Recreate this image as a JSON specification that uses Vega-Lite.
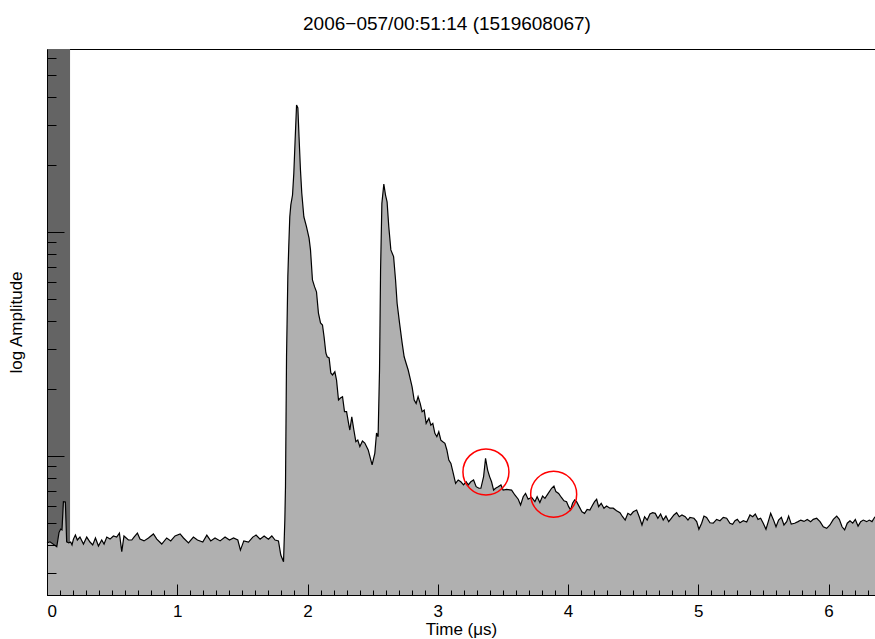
{
  "$schema": "https://vega.github.io/schema/vega-lite/v6.json",
  "autosize": {"type": "none"},
  "padding": {"left": 47, "top": 49, "right": 0, "bottom": 44},
  "width": 828,
  "height": 546,
  "background": "white",
  "title": {"text": "2006−057/00:51:14 (1519608067)", "font": "Liberation Sans", "fontSize": 19, "fontWeight": "normal", "color": "black", "anchor": "middle", "offset": 15, "dx": -14},
  "config": {"view": {"stroke": "black", "strokeWidth": 1}, "font": "Liberation Sans"},
  "datasets": {
    "wave": [
      {"time": 0.0, "logAmp": -0.388}, {"time": 0.023, "logAmp": -0.383}, {"time": 0.075, "logAmp": -0.405}, {"time": 0.092, "logAmp": -0.342},
      {"time": 0.105, "logAmp": -0.326}, {"time": 0.115, "logAmp": -0.330}, {"time": 0.126, "logAmp": -0.204}, {"time": 0.141, "logAmp": -0.205},
      {"time": 0.151, "logAmp": -0.383}, {"time": 0.167, "logAmp": -0.388}, {"time": 0.182, "logAmp": -0.384}, {"time": 0.192, "logAmp": -0.397},
      {"time": 0.203, "logAmp": -0.371}, {"time": 0.218, "logAmp": -0.353}, {"time": 0.233, "logAmp": -0.375}, {"time": 0.253, "logAmp": -0.362},
      {"time": 0.280, "logAmp": -0.393}, {"time": 0.305, "logAmp": -0.362}, {"time": 0.330, "logAmp": -0.384}, {"time": 0.351, "logAmp": -0.397},
      {"time": 0.372, "logAmp": -0.366}, {"time": 0.395, "logAmp": -0.402}, {"time": 0.420, "logAmp": -0.375}, {"time": 0.438, "logAmp": -0.393},
      {"time": 0.459, "logAmp": -0.362}, {"time": 0.484, "logAmp": -0.371}, {"time": 0.510, "logAmp": -0.357}, {"time": 0.535, "logAmp": -0.362},
      {"time": 0.556, "logAmp": -0.344}, {"time": 0.574, "logAmp": -0.427}, {"time": 0.591, "logAmp": -0.357}, {"time": 0.625, "logAmp": -0.375},
      {"time": 0.651, "logAmp": -0.375}, {"time": 0.668, "logAmp": -0.362}, {"time": 0.694, "logAmp": -0.344}, {"time": 0.714, "logAmp": -0.371},
      {"time": 0.745, "logAmp": -0.379}, {"time": 0.779, "logAmp": -0.366}, {"time": 0.817, "logAmp": -0.348}, {"time": 0.843, "logAmp": -0.371},
      {"time": 0.881, "logAmp": -0.393}, {"time": 0.919, "logAmp": -0.366}, {"time": 0.950, "logAmp": -0.379}, {"time": 0.983, "logAmp": -0.357},
      {"time": 1.022, "logAmp": -0.348}, {"time": 1.048, "logAmp": -0.366}, {"time": 1.086, "logAmp": -0.388}, {"time": 1.124, "logAmp": -0.362},
      {"time": 1.155, "logAmp": -0.375}, {"time": 1.196, "logAmp": -0.384}, {"time": 1.227, "logAmp": -0.353}, {"time": 1.257, "logAmp": -0.379},
      {"time": 1.290, "logAmp": -0.366}, {"time": 1.329, "logAmp": -0.379}, {"time": 1.367, "logAmp": -0.362}, {"time": 1.401, "logAmp": -0.375},
      {"time": 1.432, "logAmp": -0.366}, {"time": 1.465, "logAmp": -0.375}, {"time": 1.485, "logAmp": -0.420}, {"time": 1.511, "logAmp": -0.379},
      {"time": 1.547, "logAmp": -0.384}, {"time": 1.580, "logAmp": -0.362}, {"time": 1.605, "logAmp": -0.353}, {"time": 1.636, "logAmp": -0.371},
      {"time": 1.667, "logAmp": -0.357}, {"time": 1.700, "logAmp": -0.371}, {"time": 1.726, "logAmp": -0.357}, {"time": 1.751, "logAmp": -0.375},
      {"time": 1.777, "logAmp": -0.379}, {"time": 1.795, "logAmp": -0.442}, {"time": 1.816, "logAmp": -0.472}, {"time": 1.826, "logAmp": -0.286},
      {"time": 1.831, "logAmp": -0.137}, {"time": 1.839, "logAmp": 0.443}, {"time": 1.849, "logAmp": 0.800}, {"time": 1.856, "logAmp": 0.934},
      {"time": 1.864, "logAmp": 1.068}, {"time": 1.872, "logAmp": 1.121}, {"time": 1.885, "logAmp": 1.165}, {"time": 1.895, "logAmp": 1.263},
      {"time": 1.905, "logAmp": 1.411}, {"time": 1.916, "logAmp": 1.567}, {"time": 1.926, "logAmp": 1.554}, {"time": 1.935, "logAmp": 1.425},
      {"time": 1.946, "logAmp": 1.277}, {"time": 1.956, "logAmp": 1.174}, {"time": 1.972, "logAmp": 1.068}, {"time": 1.992, "logAmp": 1.024},
      {"time": 2.012, "logAmp": 0.973}, {"time": 2.023, "logAmp": 0.920}, {"time": 2.038, "logAmp": 0.786}, {"time": 2.054, "logAmp": 0.756},
      {"time": 2.069, "logAmp": 0.733}, {"time": 2.084, "logAmp": 0.638}, {"time": 2.100, "logAmp": 0.594}, {"time": 2.115, "logAmp": 0.585},
      {"time": 2.127, "logAmp": 0.533}, {"time": 2.141, "logAmp": 0.460}, {"time": 2.151, "logAmp": 0.443}, {"time": 2.166, "logAmp": 0.438},
      {"time": 2.179, "logAmp": 0.371}, {"time": 2.192, "logAmp": 0.362}, {"time": 2.210, "logAmp": 0.376}, {"time": 2.223, "logAmp": 0.339},
      {"time": 2.238, "logAmp": 0.250}, {"time": 2.253, "logAmp": 0.259}, {"time": 2.269, "logAmp": 0.265}, {"time": 2.284, "logAmp": 0.198},
      {"time": 2.300, "logAmp": 0.198}, {"time": 2.315, "logAmp": 0.147}, {"time": 2.325, "logAmp": 0.116}, {"time": 2.340, "logAmp": 0.175},
      {"time": 2.356, "logAmp": 0.116}, {"time": 2.371, "logAmp": 0.064}, {"time": 2.386, "logAmp": 0.071}, {"time": 2.402, "logAmp": 0.042},
      {"time": 2.422, "logAmp": 0.067}, {"time": 2.440, "logAmp": 0.058}, {"time": 2.466, "logAmp": 0.027}, {"time": 2.496, "logAmp": -0.040},
      {"time": 2.517, "logAmp": 0.013}, {"time": 2.530, "logAmp": 0.103}, {"time": 2.542, "logAmp": 0.086}, {"time": 2.553, "logAmp": 0.384},
      {"time": 2.561, "logAmp": 0.830}, {"time": 2.571, "logAmp": 1.128}, {"time": 2.586, "logAmp": 1.214}, {"time": 2.599, "logAmp": 1.165},
      {"time": 2.611, "logAmp": 1.135}, {"time": 2.624, "logAmp": 1.024}, {"time": 2.640, "logAmp": 0.920}, {"time": 2.661, "logAmp": 0.890},
      {"time": 2.676, "logAmp": 0.786}, {"time": 2.688, "logAmp": 0.682}, {"time": 2.707, "logAmp": 0.592}, {"time": 2.727, "logAmp": 0.503},
      {"time": 2.742, "logAmp": 0.443}, {"time": 2.757, "logAmp": 0.414}, {"time": 2.773, "logAmp": 0.384}, {"time": 2.788, "logAmp": 0.347},
      {"time": 2.803, "logAmp": 0.309}, {"time": 2.819, "logAmp": 0.250}, {"time": 2.834, "logAmp": 0.235}, {"time": 2.849, "logAmp": 0.265},
      {"time": 2.865, "logAmp": 0.235}, {"time": 2.880, "logAmp": 0.198}, {"time": 2.896, "logAmp": 0.205}, {"time": 2.911, "logAmp": 0.146},
      {"time": 2.932, "logAmp": 0.168}, {"time": 2.947, "logAmp": 0.138}, {"time": 2.962, "logAmp": 0.146}, {"time": 2.978, "logAmp": 0.101},
      {"time": 2.993, "logAmp": 0.086}, {"time": 3.008, "logAmp": 0.108}, {"time": 3.024, "logAmp": 0.071}, {"time": 3.039, "logAmp": 0.064},
      {"time": 3.055, "logAmp": 0.057}, {"time": 3.070, "logAmp": 0.027}, {"time": 3.085, "logAmp": -0.018}, {"time": 3.101, "logAmp": -0.033},
      {"time": 3.116, "logAmp": -0.070}, {"time": 3.137, "logAmp": -0.122}, {"time": 3.157, "logAmp": -0.107}, {"time": 3.177, "logAmp": -0.115},
      {"time": 3.198, "logAmp": -0.129}, {"time": 3.218, "logAmp": -0.115}, {"time": 3.234, "logAmp": -0.129}, {"time": 3.254, "logAmp": -0.115},
      {"time": 3.275, "logAmp": -0.107}, {"time": 3.295, "logAmp": -0.137}, {"time": 3.316, "logAmp": -0.144}, {"time": 3.331, "logAmp": -0.144},
      {"time": 3.352, "logAmp": -0.092}, {"time": 3.367, "logAmp": -0.010}, {"time": 3.383, "logAmp": -0.063}, {"time": 3.398, "logAmp": -0.092},
      {"time": 3.413, "logAmp": -0.115}, {"time": 3.429, "logAmp": -0.152}, {"time": 3.444, "logAmp": -0.144}, {"time": 3.464, "logAmp": -0.137},
      {"time": 3.485, "logAmp": -0.129}, {"time": 3.502, "logAmp": -0.152}, {"time": 3.528, "logAmp": -0.149}, {"time": 3.567, "logAmp": -0.152},
      {"time": 3.592, "logAmp": -0.174}, {"time": 3.618, "logAmp": -0.193}, {"time": 3.636, "logAmp": -0.219}, {"time": 3.656, "logAmp": -0.182},
      {"time": 3.674, "logAmp": -0.167}, {"time": 3.694, "logAmp": -0.193}, {"time": 3.720, "logAmp": -0.184}, {"time": 3.746, "logAmp": -0.204},
      {"time": 3.763, "logAmp": -0.182}, {"time": 3.784, "logAmp": -0.208}, {"time": 3.805, "logAmp": -0.179}, {"time": 3.823, "logAmp": -0.189},
      {"time": 3.848, "logAmp": -0.167}, {"time": 3.874, "logAmp": -0.144}, {"time": 3.892, "logAmp": -0.134}, {"time": 3.907, "logAmp": -0.159},
      {"time": 3.928, "logAmp": -0.167}, {"time": 3.948, "logAmp": -0.184}, {"time": 3.969, "logAmp": -0.200}, {"time": 3.989, "logAmp": -0.204},
      {"time": 4.005, "logAmp": -0.226}, {"time": 4.020, "logAmp": -0.241}, {"time": 4.035, "logAmp": -0.211}, {"time": 4.051, "logAmp": -0.196},
      {"time": 4.066, "logAmp": -0.204}, {"time": 4.086, "logAmp": -0.226}, {"time": 4.107, "logAmp": -0.249}, {"time": 4.127, "logAmp": -0.256},
      {"time": 4.147, "logAmp": -0.238}, {"time": 4.168, "logAmp": -0.241}, {"time": 4.189, "logAmp": -0.219}, {"time": 4.204, "logAmp": -0.204},
      {"time": 4.220, "logAmp": -0.193}, {"time": 4.235, "logAmp": -0.226}, {"time": 4.255, "logAmp": -0.211}, {"time": 4.276, "logAmp": -0.233},
      {"time": 4.296, "logAmp": -0.223}, {"time": 4.322, "logAmp": -0.233}, {"time": 4.347, "logAmp": -0.233}, {"time": 4.373, "logAmp": -0.244},
      {"time": 4.399, "logAmp": -0.253}, {"time": 4.419, "logAmp": -0.271}, {"time": 4.439, "logAmp": -0.286}, {"time": 4.460, "logAmp": -0.256},
      {"time": 4.481, "logAmp": -0.263}, {"time": 4.501, "logAmp": -0.249}, {"time": 4.527, "logAmp": -0.241}, {"time": 4.547, "logAmp": -0.271},
      {"time": 4.568, "logAmp": -0.308}, {"time": 4.588, "logAmp": -0.271}, {"time": 4.608, "logAmp": -0.286}, {"time": 4.629, "logAmp": -0.259},
      {"time": 4.650, "logAmp": -0.253}, {"time": 4.670, "logAmp": -0.256}, {"time": 4.690, "logAmp": -0.278}, {"time": 4.711, "logAmp": -0.259},
      {"time": 4.731, "logAmp": -0.286}, {"time": 4.752, "logAmp": -0.268}, {"time": 4.773, "logAmp": -0.293}, {"time": 4.793, "logAmp": -0.278},
      {"time": 4.813, "logAmp": -0.263}, {"time": 4.834, "logAmp": -0.253}, {"time": 4.854, "logAmp": -0.271}, {"time": 4.875, "logAmp": -0.263},
      {"time": 4.900, "logAmp": -0.271}, {"time": 4.921, "logAmp": -0.286}, {"time": 4.936, "logAmp": -0.274}, {"time": 4.967, "logAmp": -0.278},
      {"time": 4.988, "logAmp": -0.293}, {"time": 5.005, "logAmp": -0.327}, {"time": 5.026, "logAmp": -0.300}, {"time": 5.044, "logAmp": -0.268},
      {"time": 5.064, "logAmp": -0.274}, {"time": 5.090, "logAmp": -0.298}, {"time": 5.115, "logAmp": -0.300}, {"time": 5.141, "logAmp": -0.283},
      {"time": 5.167, "logAmp": -0.289}, {"time": 5.192, "logAmp": -0.274}, {"time": 5.218, "logAmp": -0.278}, {"time": 5.243, "logAmp": -0.300},
      {"time": 5.264, "logAmp": -0.305}, {"time": 5.282, "logAmp": -0.289}, {"time": 5.300, "logAmp": -0.283}, {"time": 5.320, "logAmp": -0.298},
      {"time": 5.346, "logAmp": -0.289}, {"time": 5.372, "logAmp": -0.295}, {"time": 5.397, "logAmp": -0.263}, {"time": 5.418, "logAmp": -0.271},
      {"time": 5.438, "logAmp": -0.259}, {"time": 5.459, "logAmp": -0.283}, {"time": 5.479, "logAmp": -0.278}, {"time": 5.499, "logAmp": -0.300},
      {"time": 5.520, "logAmp": -0.327}, {"time": 5.541, "logAmp": -0.286}, {"time": 5.556, "logAmp": -0.256}, {"time": 5.576, "logAmp": -0.283},
      {"time": 5.597, "logAmp": -0.316}, {"time": 5.617, "logAmp": -0.286}, {"time": 5.638, "logAmp": -0.274}, {"time": 5.658, "logAmp": -0.308},
      {"time": 5.679, "logAmp": -0.293}, {"time": 5.694, "logAmp": -0.268}, {"time": 5.714, "logAmp": -0.304}, {"time": 5.740, "logAmp": -0.300},
      {"time": 5.766, "logAmp": -0.293}, {"time": 5.787, "logAmp": -0.286}, {"time": 5.812, "logAmp": -0.292}, {"time": 5.837, "logAmp": -0.283},
      {"time": 5.863, "logAmp": -0.293}, {"time": 5.883, "logAmp": -0.283}, {"time": 5.909, "logAmp": -0.278}, {"time": 5.935, "logAmp": -0.293},
      {"time": 5.960, "logAmp": -0.316}, {"time": 5.986, "logAmp": -0.323}, {"time": 6.011, "logAmp": -0.308}, {"time": 6.037, "logAmp": -0.283},
      {"time": 6.063, "logAmp": -0.268}, {"time": 6.083, "logAmp": -0.283}, {"time": 6.104, "logAmp": -0.316}, {"time": 6.124, "logAmp": -0.330},
      {"time": 6.144, "logAmp": -0.300}, {"time": 6.165, "logAmp": -0.289}, {"time": 6.186, "logAmp": -0.300}, {"time": 6.206, "logAmp": -0.283},
      {"time": 6.227, "logAmp": -0.313}, {"time": 6.247, "logAmp": -0.293}, {"time": 6.267, "logAmp": -0.286}, {"time": 6.293, "logAmp": -0.293},
      {"time": 6.313, "logAmp": -0.286}, {"time": 6.334, "logAmp": -0.293}, {"time": 6.357, "logAmp": -0.271}
    ],
    "band": [{"t0": 0, "t1": 0.177}],
    "marks": [{"time": 3.37, "logAmp": -0.071}, {"time": 3.89, "logAmp": -0.171}]
  },
  "layer": [
    {
      "data": {"name": "band"},
      "mark": {"type": "rect", "color": "#646464"},
      "encoding": {
        "x": {"field": "t0", "type": "quantitative", "scale": {"domain": [0, 6.357], "nice": false, "zero": false}, "axis": null},
        "x2": {"field": "t1"}
      }
    },
    {
      "data": {"name": "wave"},
      "mark": {"type": "area", "color": "#b0b0b0"},
      "encoding": {
        "x": {"field": "time", "type": "quantitative", "scale": {"domain": [0, 6.357], "nice": false, "zero": false},
          "axis": {"orient": "bottom", "values": [0, 1, 2, 3, 4, 5, 6], "format": "d", "tickSize": -11, "tickColor": "black", "tickWidth": 1, "domainColor": "black", "domainWidth": 1, "labelFont": "Liberation Sans", "labelFontSize": 17, "labelColor": "black", "labelPadding": 19, "title": "Time (μs)", "titleFont": "Liberation Sans", "titleFontSize": 17, "titleFontWeight": "normal", "titleColor": "black", "titlePadding": 2, "grid": false, "zindex": 2}},
        "y": {"field": "logAmp", "type": "quantitative", "scale": {"domain": [-0.6205, 1.817], "nice": false, "zero": false},
          "axis": {"orient": "left", "values": [0, 1], "tickSize": -17, "tickColor": "black", "tickWidth": 1, "domainColor": "black", "domainWidth": 1, "labels": false, "title": "log Amplitude", "titleFont": "Liberation Sans", "titleFontSize": 17, "titleFontWeight": "normal", "titleColor": "black", "titlePadding": 21, "grid": false, "zindex": 2}},
        "y2": {"datum": -0.6205}
      }
    },
    {
      "data": {"name": "wave"},
      "mark": {"type": "line", "color": "black", "strokeWidth": 1.2},
      "encoding": {
        "x": {"field": "time", "type": "quantitative", "scale": {"domain": [0, 6.357], "nice": false, "zero": false},
          "axis": {"orient": "bottom", "values": [0.1, 0.2, 0.3, 0.4, 0.5, 0.6, 0.7, 0.8, 0.9, 1.1, 1.2, 1.3, 1.4, 1.5, 1.6, 1.7, 1.8, 1.9, 2.1, 2.2, 2.3, 2.4, 2.5, 2.6, 2.7, 2.8, 2.9, 3.1, 3.2, 3.3, 3.4, 3.5, 3.6, 3.7, 3.8, 3.9, 4.1, 4.2, 4.3, 4.4, 4.5, 4.6, 4.7, 4.8, 4.9, 5.1, 5.2, 5.3, 5.4, 5.5, 5.6, 5.7, 5.8, 5.9, 6.1, 6.2, 6.3], "tickSize": -5, "tickColor": "black", "tickWidth": 1, "domain": false, "labels": false, "title": null, "grid": false, "zindex": 2}},
        "y": {"field": "logAmp", "type": "quantitative", "scale": {"domain": [-0.6205, 1.817], "nice": false, "zero": false},
          "axis": {"orient": "left", "values": [-0.5229, -0.3979, -0.301, -0.2218, -0.1549, -0.0969, -0.0458, 0.301, 0.4771, 0.6021, 0.699, 0.7782, 0.8451, 0.9031, 0.9542, 1.301, 1.4771, 1.6021, 1.699, 1.7782], "tickSize": -9, "tickColor": "black", "tickWidth": 1, "domain": false, "labels": false, "title": null, "grid": false, "zindex": 2}}
      }
    },
    {
      "data": {"name": "marks"},
      "mark": {"type": "point", "shape": "circle", "filled": false, "stroke": "#ff0000", "strokeWidth": 1.5, "size": 2116, "opacity": 1},
      "encoding": {
        "x": {"field": "time", "type": "quantitative", "scale": {"domain": [0, 6.357], "nice": false, "zero": false}, "axis": null},
        "y": {"field": "logAmp", "type": "quantitative", "scale": {"domain": [-0.6205, 1.817], "nice": false, "zero": false}, "axis": null}
      }
    }
  ],
  "resolve": {"scale": {"x": "independent", "y": "independent"}, "axis": {"x": "independent", "y": "independent"}}
}
